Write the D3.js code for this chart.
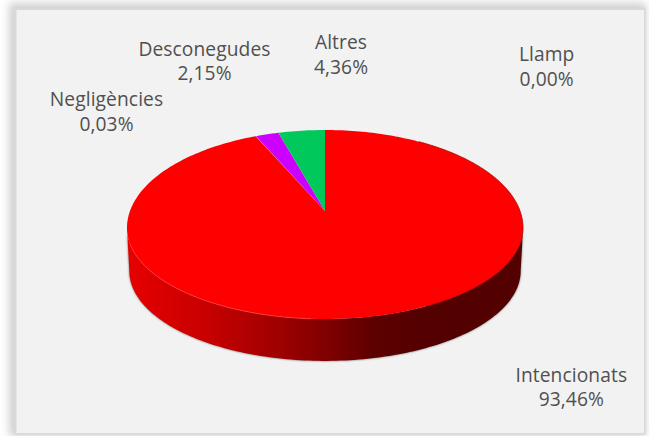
<!DOCTYPE html>
<html><head><meta charset="utf-8">
<script src="https://cdn.jsdelivr.net/npm/d3@7/dist/d3.min.js"></script>
<style>html,body{margin:0;padding:0;background:#fff;overflow:hidden}svg{display:block}</style>
</head><body>
<svg id="c" width="649" height="436"></svg>
<script>
const categories = ["Llamp","Intencionats","Negligències","Desconegudes","Altres"];
const values = [0.00,93.46,0.03,2.15,4.36];
const colors = ["#4472c4","#ff0000","#ffc000","#cc00ff","#00c85a"];
const labelAnchors = [[546.7,61],[571.3,381.5],[106.5,106],[204.5,55.5],[341,49]];

const svg = d3.select("#c");
const defs = svg.append("defs");
const blur = (id,s)=>defs.append("filter").attr("id",id).attr("x","-10%").attr("y","-10%").attr("width","120%").attr("height","120%")
  .append("feGaussianBlur").attr("stdDeviation",s);
blur("frameBlur",4); blur("pieBlur",1.1); blur("rimBlur",.5);
const grad = defs.append("linearGradient").attr("id","wall").attr("gradientUnits","userSpaceOnUse")
  .attr("x1",127).attr("x2",523).attr("y1",0).attr("y2",0);
[[0,"#e60000"],[0.2,"#c80000"],[0.38,"#a00000"],[0.51,"#7e0000"],[0.62,"#5e0000"],[0.75,"#540000"],[1,"#520000"]]
 .forEach(([o,c])=>grad.append("stop").attr("offset",o).attr("stop-color",c));

// frame
svg.append("rect").attr("x",9).attr("y",3).attr("width",637).attr("height",433).attr("fill","#d0d0d0").attr("filter","url(#frameBlur)");
svg.append("rect").attr("x",14).attr("y",7.5).attr("width",631.5).attr("height",427).attr("fill","#d8d8d8");
svg.append("rect").attr("x",16.5).attr("y",10).attr("width",627.5).attr("height",423).attr("fill","#f2f2f2");

// perspective projection of the unit disc
const k=1/7, apex={x:325,y:211}, A=92.57, B=196, depth=43, shrink=0.988;
const warp=y=>y<224.5 ? 130+(y-130)*98/94.5 : 228+(y-224.5)*91/94.5;
const project=(t,s=1,dy=0)=>{
  const u=Math.cos(t), v=Math.sin(t), w=1+k*u;
  const y=warp(apex.y-A*u/w);
  return [apex.x+s*B*v/w, (y-228)*s+228+dy];
};
const arcs=d3.pie().sort(null).value(d=>d)(values);
const sample=(a0,a1,s=1,dy=0)=>{
  const n=Math.max(2,Math.ceil(Math.abs(a1-a0)/0.02));
  return d3.range(n+1).map(i=>project(a0+(a1-a0)*i/n,s,dy));
};
const line=d3.line();
const wide=Math.acos(-k), wideB=2*Math.PI-wide;

// wall + shadow (front silhouette of the disc)
const wall=[...sample(wide,wideB),...sample(wideB,wide,shrink,depth)];
svg.append("path").attr("d",line(wall)+"Z").attr("fill","#4a4a4a").attr("opacity",.8).attr("filter","url(#pieBlur)");
svg.append("path").attr("d",line(wall)+"Z").attr("fill","url(#wall)");

// top face
arcs.filter(d=>d.value>0).forEach(d=>{
  const pts=[[apex.x,apex.y],...sample(d.startAngle,d.endAngle)];
  svg.append("path").attr("d",line(pts)+"Z").attr("fill",colors[d.index]);
});
// bevel on the rim
svg.append("path").attr("d",line(sample(Math.PI*1.02,Math.PI*1.4))).attr("fill","none").attr("stroke","#ff4040").attr("stroke-width",1).attr("opacity",.8).attr("filter","url(#rimBlur)");
svg.append("path").attr("d",line(sample(Math.PI*0.18,Math.PI*0.85))).attr("fill","none").attr("stroke","#b00000").attr("stroke-width",1).attr("opacity",.8).attr("filter","url(#rimBlur)");

// labels
const fmt=v=>v.toFixed(2).replace(".",",")+"%";
categories.forEach((c,i)=>{
  const t=svg.append("text").attr("y",labelAnchors[i][1])
    .attr("text-anchor","middle").attr("font-family","'Open Sans'").attr("font-size",19.2).attr("letter-spacing",0.1).attr("fill","#505050");
  t.append("tspan").attr("x",labelAnchors[i][0]).text(c);
  t.append("tspan").attr("x",labelAnchors[i][0]).attr("dy",24.6).text(fmt(values[i]));
});
</script>
</body></html>
